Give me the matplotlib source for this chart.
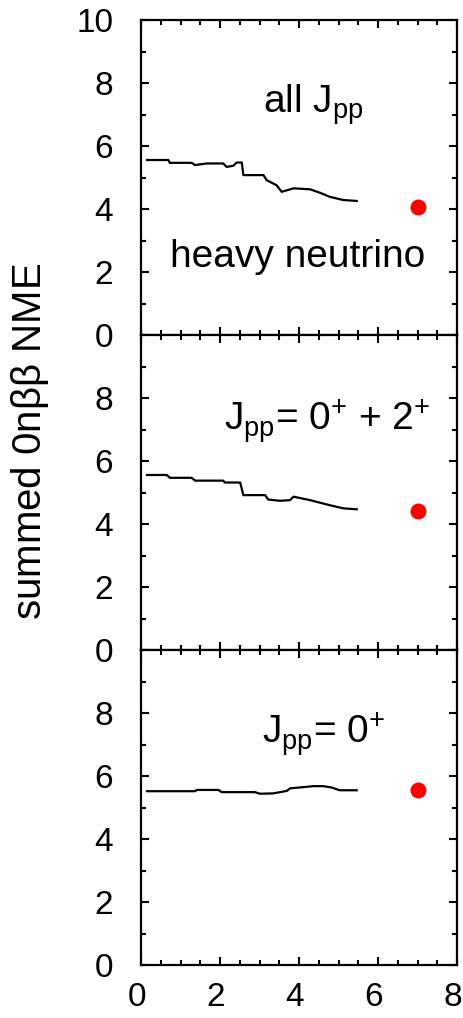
import numpy as np
import matplotlib
matplotlib.use('Agg')
import matplotlib.pyplot as plt
import matplotlib.transforms as mtransforms
from matplotlib.ticker import MultipleLocator

plt.rcParams['font.family'] = ['Liberation Sans', 'DejaVu Sans']
plt.rcParams['mathtext.fontset'] = 'custom'
plt.rcParams['mathtext.rm'] = 'Liberation Sans'
plt.rcParams['mathtext.it'] = 'Liberation Sans'
plt.rcParams['mathtext.bf'] = 'Liberation Sans'

# summed NME vs cutoff, three J_pp selections
x_all = [0.15, 0.69, 0.73, 1.28, 1.37, 1.66, 2.08, 2.17, 2.34, 2.42, 2.55, 2.59,
         3.10, 3.18, 3.43, 3.56, 3.86, 4.28, 4.53, 4.78, 5.12, 5.46]
y_all = [5.56, 5.56, 5.47, 5.47, 5.40, 5.45, 5.45, 5.34, 5.38, 5.48, 5.48, 5.08,
         5.08, 4.92, 4.76, 4.55, 4.66, 4.63, 4.52, 4.39, 4.29, 4.26]

x_02 = [0.15, 0.65, 0.73, 1.28, 1.37, 2.08, 2.12, 2.51, 2.59, 3.14, 3.22, 3.52,
        3.77, 3.86, 3.94, 4.28, 4.53, 4.78, 5.12, 5.46]
y_02 = [5.56, 5.56, 5.47, 5.47, 5.38, 5.38, 5.32, 5.32, 4.92, 4.92, 4.78, 4.74,
        4.76, 4.87, 4.85, 4.76, 4.68, 4.60, 4.50, 4.47]

x_0 = [0.15, 1.37, 1.41, 1.96, 2.04, 2.88, 3.01, 3.34, 3.52, 3.69, 3.77, 4.03,
       4.36, 4.61, 4.82, 5.03, 5.46]
y_0 = [5.52, 5.52, 5.56, 5.56, 5.49, 5.49, 5.44, 5.45, 5.49, 5.53, 5.61, 5.64,
       5.68, 5.68, 5.64, 5.55, 5.55]

# full-space values (red dots)
dot_x = 7.0
dot_y = [4.06, 4.41, 5.56]

labels = [r'all J$_{\rm pp}$', r'J$_{\rm pp}$= 0$^{+}$ + 2$^{+}$', r'J$_{\rm pp}$= 0$^{+}$']
label_pos = [(4.35, 7.05), (4.72, 6.98), (4.62, 7.05)]

xs = [x_all, x_02, x_0]
ys = [y_all, y_02, y_0]

fig = plt.figure(figsize=(4.64, 10.18), dpi=100)
left, width = 0.304, 0.681
bottom, ph = 0.052, 0.3094
fs = 24
fs_lab = 28

axes = []
for i in range(3):
    ax = fig.add_axes([left, bottom + (2 - i) * ph, width, ph])
    axes.append(ax)
    ax.plot(xs[i], ys[i], color='k', lw=1.6)
    ax.plot(dot_x, dot_y[i], 'o', color='#ff0000', ms=11.5, mec='none')
    ax.text(label_pos[i][0], label_pos[i][1], labels[i], fontsize=fs_lab,
            ha='center', va='baseline')
    ax.set_xlim(0, 8)
    ax.set_ylim(0, 10)
    ax.xaxis.set_major_locator(MultipleLocator(2))
    ax.xaxis.set_minor_locator(MultipleLocator(0.5))
    ax.yaxis.set_major_locator(MultipleLocator(2))
    ax.yaxis.set_minor_locator(MultipleLocator(1))
    ax.tick_params(which='both', direction='in', top=True, right=True,
                   labelsize=fs, width=1.5)
    ax.tick_params(axis='y', pad=20)
    ax.tick_params(axis='x', pad=12)
    ax.tick_params(which='major', length=5.5)
    ax.tick_params(which='minor', length=3.5)
    for s in ax.spines.values():
        s.set_linewidth(1.6)
    if i > 0:
        ax.set_yticks([0, 2, 4, 6, 8])
    if i < 2:
        ax.tick_params(labelbottom=False)

# x tick labels sit slightly left of their ticks in the original
shift = mtransforms.ScaledTranslation(-0.045, 0, fig.dpi_scale_trans)
for lab in axes[2].get_xticklabels():
    lab.set_transform(lab.get_transform() + shift)

axes[0].text(3.96, 2.48, 'heavy neutrino', fontsize=fs_lab, ha='center', va='center')

fig.text(0.065, 0.567, r'summed 0n$\beta\beta$ NME', rotation=90, fontsize=29,
         ha='center', va='center')

fig.savefig('out.png', dpi=100)
